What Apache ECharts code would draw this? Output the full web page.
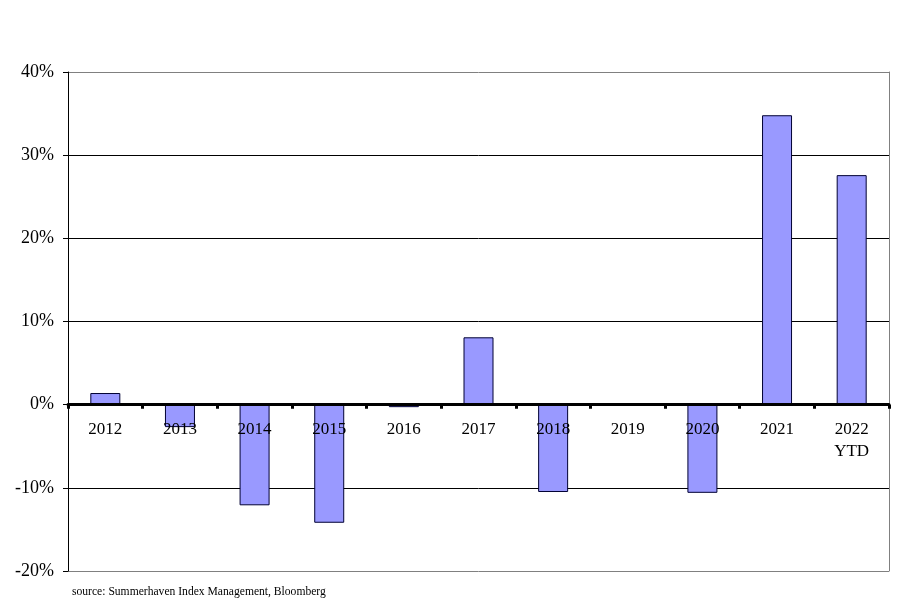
<!DOCTYPE html>
<html>
<head>
<meta charset="utf-8">
<script src="https://cdn.jsdelivr.net/npm/echarts@6/dist/echarts.min.js"></script>
<style>
  html, body { margin: 0; padding: 0; background: #fff; }
  #chart { width: 900px; height: 611px; }
</style>
</head>
<body>
<div id="chart"></div>
<script>
// yearly returns
const years = ["2012", "2013", "2014", "2015", "2016", "2017", "2018", "2019", "2020", "2021", "2022\nYTD"];
const returns = [1.4, -2.7, -12.1, -14.2, -0.3, 8.1, -10.5, 0, -10.6, 34.8, 27.6];
const sourceNote = "source: Summerhaven Index Management, Bloomberg";

const chart = echarts.init(document.getElementById("chart"));

const serif = "'Liberation Serif', 'DejaVu Serif', serif";
const gridTop = 72, gridBottom = 40;
const plotH = 611 - gridTop - gridBottom;
// zero sits 2/6 of the way up from -20% to 40%
const zeroOffset = -plotH * 2 / 6;

chart.setOption({
  animation: false,
  backgroundColor: "#fff",
  grid: { left: 68, right: 11, top: gridTop, bottom: gridBottom, outerBoundsMode: "none" },
  xAxis: {
    type: "category",
    data: years,
    offset: zeroOffset,
    axisLine: { onZero: false, lineStyle: { color: "#000", width: 3 } },
    axisTick: { show: true, interval: 0, length: 4, lineStyle: { color: "#000", width: 3 } },
    axisLabel: {
      interval: 0,
      margin: 14,
      color: "#000",
      fontFamily: serif,
      fontSize: 17,
      lineHeight: 22
    },
    splitLine: { show: false },
    z: 5
  },
  yAxis: [
    {
      type: "value",
      min: -20,
      max: 40,
      interval: 10,
      axisLine: { show: true, lineStyle: { color: "#000", width: 1 } },
      axisTick: { show: true, length: 5, lineStyle: { color: "#000" } },
      axisLabel: {
        margin: 14,
        color: "#000",
        fontFamily: serif,
        fontSize: 18,
        formatter: "{value}%"
      },
      splitLine: {
        show: true,
        lineStyle: { color: ["#808080", "#000", "#000", "#000", "#000", "#000", "#808080"], width: 1 }
      }
    },
    {
      type: "value",
      position: "right",
      min: -20,
      max: 40,
      interval: 10,
      axisLine: { show: true, lineStyle: { color: "#808080", width: 1 } },
      axisTick: { show: false },
      axisLabel: { show: false },
      splitLine: { show: false }
    }
  ],
  series: [
    {
      type: "bar",
      data: returns,
      barWidth: 30,
      itemStyle: { color: "#9999FF", borderColor: "#000033", borderWidth: 1 }
    }
  ],
  graphic: [
    {
      type: "text",
      left: 72,
      top: 586,
      style: { text: sourceNote, fill: "#000", font: "11.6px " + serif }
    }
  ]
});
</script>
</body>
</html>
